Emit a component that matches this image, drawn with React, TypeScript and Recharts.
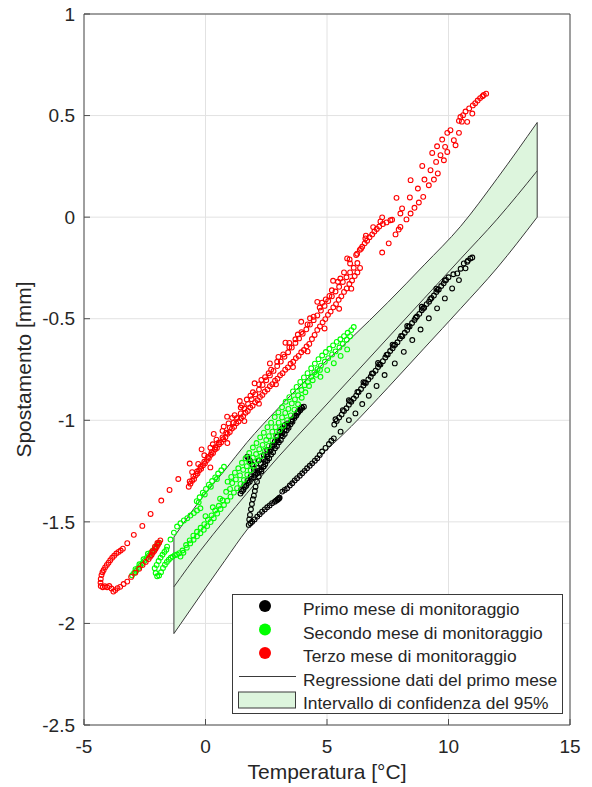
import React from 'react';
import {
  ComposedChart,
  Area,
  Line,
  Scatter,
  XAxis,
  YAxis,
  CartesianGrid,
  ReferenceLine,
} from 'recharts';

// axis ticks
const xTicks = [-5, 0, 5, 10, 15];
const yTicks = [-2.5, -2, -1.5, -1, -0.5, 0, 0.5, 1];

// regression of the first month and its 95% band
const bandX = [-1.3, -0.2, 0.8, 1.7, 3, 4.5, 6, 7.5, 9, 10.5, 12, 13.65];
const bandUpper = [-1.575, -1.39, -1.245, -1.11, -0.94, -0.76, -0.595, -0.42, -0.235, -0.045, 0.19, 0.466];
const regression = [-1.82, -1.64, -1.49, -1.36, -1.18, -0.985, -0.79, -0.595, -0.4, -0.205, -0.01, 0.228];
const bandLower = [-2.05, -1.86, -1.69, -1.54, -1.37, -1.2, -1.03, -0.84, -0.645, -0.45, -0.25, 0.0];

// Primo mese di monitoraggio [temperatura, spostamento]
const primoMese: [number, number][] = [
  // dense strand, left part
  [1.44, -1.361], [1.5, -1.349], [1.56, -1.342], [1.62, -1.329], [1.68, -1.322], [1.75, -1.309], [1.82, -1.302],
  [1.9, -1.288], [1.98, -1.281], [2.06, -1.268], [2.14, -1.261], [2.22, -1.247], [2.3, -1.241], [2.38, -1.228],
  [2.46, -1.216], [2.54, -1.199], [2.62, -1.187], [2.7, -1.169], [2.78, -1.157], [2.86, -1.138], [2.94, -1.127],
  [3.02, -1.108], [3.1, -1.097], [3.18, -1.079], [3.26, -1.067], [3.34, -1.049], [3.42, -1.037], [3.5, -1.019],
  [3.58, -1.007], [3.66, -0.989], [3.74, -0.977], [3.82, -0.961], [3.9, -0.951], [3.98, -0.939], [4.05, -0.933],
  [1.47, -1.34], [1.6, -1.318], [1.73, -1.296], [1.86, -1.276], [2.0, -1.255], [2.13, -1.235], [2.27, -1.213],
  [2.41, -1.19], [2.55, -1.168], [2.69, -1.145], [2.83, -1.12], [2.97, -1.1], [3.11, -1.075], [3.25, -1.052],
  [3.39, -1.028], [3.53, -1.005], [3.67, -0.98], [3.81, -0.958], [3.95, -0.935],
  [1.72, -1.179], [1.78, -1.192], [1.85, -1.201], [1.92, -1.217], [1.99, -1.239], [2.2, -1.198], [2.4, -1.171],
  [2.54, -1.146], [2.75, -1.121], [2.95, -1.097], [3.15, -1.064], [3.36, -1.031], [3.56, -0.996], [3.77, -0.966],
  [3.9, -0.944],
  // upturn of the loop
  [1.78, -1.515], [1.8, -1.488], [1.83, -1.466], [1.87, -1.438], [1.91, -1.412], [1.95, -1.389], [1.99, -1.371],
  [2.03, -1.348], [2.06, -1.327], [2.12, -1.302], [2.19, -1.277], [2.3, -1.252], [2.4, -1.228], [2.47, -1.201],
  [2.54, -1.179], [2.64, -1.154], [2.74, -1.13], [2.85, -1.106], [2.95, -1.081], [3.05, -1.058], [3.16, -1.039],
  [3.26, -1.024], [3.36, -1.015],
  // lower chain along the band edge
  [1.85, -1.507], [1.92, -1.499], [2.02, -1.488], [2.13, -1.474], [2.23, -1.462], [2.33, -1.45], [2.44, -1.439],
  [2.54, -1.428], [2.64, -1.419], [2.74, -1.408], [2.85, -1.401], [2.95, -1.392], [3.0, -1.387], [3.05, -1.381],
  [2.9, -1.396], [2.97, -1.39], [3.03, -1.384],
  [3.16, -1.351], [3.26, -1.343], [3.36, -1.335], [3.47, -1.321], [3.57, -1.31], [3.67, -1.296], [3.77, -1.285],
  [3.88, -1.273], [3.98, -1.261], [4.08, -1.249], [4.18, -1.236], [4.29, -1.224], [4.39, -1.212], [4.5, -1.199],
  [4.6, -1.187], [4.7, -1.171], [4.8, -1.154], [4.94, -1.136], [5.08, -1.117], [5.18, -1.101], [5.28, -1.089],
  // sparse row on the right
  [5.56, -1.056], [5.9, -0.999], [6.17, -0.966], [6.45, -0.92], [6.72, -0.879], [7.04, -0.831], [7.37, -0.777],
  [7.79, -0.72], [8.16, -0.663], [8.51, -0.605], [8.85, -0.553], [9.19, -0.498], [9.53, -0.449], [9.85, -0.4],
  [10.15, -0.351], [10.43, -0.31], [10.7, -0.252], [10.77, -0.22],
  // dense strand, right part
  [5.3, -1.021], [5.4, -1.003], [5.5, -0.986], [5.6, -0.972], [5.7, -0.954], [5.8, -0.941], [5.9, -0.923],
  [6.0, -0.909], [6.1, -0.893], [6.2, -0.879], [6.3, -0.861], [6.4, -0.846], [6.5, -0.829], [6.6, -0.816],
  [6.7, -0.799], [6.8, -0.786], [6.9, -0.769], [7.0, -0.756], [7.1, -0.738], [7.2, -0.726], [7.3, -0.709],
  [7.4, -0.691], [7.5, -0.676], [7.6, -0.659], [7.7, -0.646], [7.8, -0.628], [7.9, -0.616], [8.0, -0.598],
  [8.1, -0.586], [8.2, -0.569], [8.3, -0.556], [8.4, -0.538], [8.5, -0.521], [8.6, -0.506], [8.7, -0.489],
  [8.8, -0.476], [8.9, -0.458], [9.0, -0.446], [9.1, -0.428], [9.2, -0.416], [9.3, -0.398], [9.4, -0.386],
  [9.5, -0.368], [9.6, -0.356], [9.7, -0.339], [9.8, -0.326], [9.9, -0.309], [10.0, -0.296],
  [5.35, -0.995], [5.65, -0.95], [5.95, -0.905], [6.25, -0.86], [6.55, -0.815], [6.85, -0.77], [7.15, -0.725],
  [7.45, -0.678], [7.75, -0.632], [8.05, -0.585], [8.35, -0.54], [8.65, -0.495], [8.95, -0.45], [9.25, -0.404],
  [9.55, -0.358], [9.85, -0.312],
  [5.9, -0.901], [6.5, -0.812], [7.1, -0.718], [7.7, -0.628], [8.3, -0.536], [8.9, -0.441], [9.5, -0.352],
  [10.2, -0.281], [10.36, -0.277], [10.5, -0.254], [10.63, -0.228], [10.8, -0.214], [10.9, -0.203], [10.98, -0.199],
];

// Secondo mese di monitoraggio
const secondoMese: [number, number][] = [
  [-3.02, -1.763], [-2.94, -1.752], [-2.85, -1.741], [-2.77, -1.727], [-2.68, -1.716], [-2.59, -1.703],
  [-2.51, -1.692], [-2.42, -1.678], [-2.33, -1.667], [-2.25, -1.652], [-2.16, -1.641], [-2.07, -1.627],
  [-1.99, -1.614], [-1.91, -1.603], [-2.88, -1.733], [-2.72, -1.709], [-2.55, -1.684], [-2.37, -1.657],
  [-2.09, -1.728], [-2.05, -1.752], [-1.99, -1.768], [-1.91, -1.764], [-1.83, -1.748], [-1.75, -1.727],
  [-1.67, -1.711], [-1.59, -1.697], [-1.51, -1.686], [-1.43, -1.677], [-1.35, -1.671], [-1.26, -1.664],
  [-1.17, -1.661], [-1.08, -1.654], [-2.01, -1.712], [-1.93, -1.693], [-1.85, -1.676], [-1.77, -1.662],
  [-1.69, -1.648], [-1.61, -1.637],
  [-1.58, -1.622], [-1.44, -1.587], [-1.3, -1.553], [-1.17, -1.523], [-1.03, -1.507], [-0.89, -1.493],
  [-0.75, -1.482], [-0.62, -1.469], [-0.48, -1.457], [-0.35, -1.444], [-0.21, -1.433],
  [-0.36, -1.398], [-0.24, -1.379], [-0.11, -1.356], [0.02, -1.338], [0.14, -1.317], [0.27, -1.299],
  [0.4, -1.281], [0.52, -1.262], [0.65, -1.246], [0.76, -1.229], [-0.28, -1.404], [-0.03, -1.365],
  [0.22, -1.327], [0.47, -1.289],
  [-1.03, -1.671], [-0.91, -1.652], [-0.77, -1.627], [-0.63, -1.606], [-0.49, -1.588], [-0.35, -1.571],
  [-0.21, -1.556], [-0.07, -1.539], [0.07, -1.521], [0.21, -1.501], [0.34, -1.482], [0.48, -1.459],
  [0.62, -1.437], [0.76, -1.417], [0.9, -1.396], [1.03, -1.376], [1.17, -1.356], [1.3, -1.334],
  [1.44, -1.313], [1.58, -1.294], [1.72, -1.268], [1.86, -1.246], [2.0, -1.224], [2.15, -1.198],
  [2.3, -1.176], [2.45, -1.149], [2.6, -1.126], [2.75, -1.099], [2.9, -1.076], [3.05, -1.049],
  [3.21, -1.027], [3.36, -0.999], [3.51, -0.976], [3.66, -0.948], [3.81, -0.921], [3.96, -0.889],
  [4.11, -0.862], [4.26, -0.831], [4.41, -0.803], [4.56, -0.776], [4.71, -0.752],
  [-0.95, -1.641], [-0.8, -1.614], [-0.65, -1.591], [-0.5, -1.568], [-0.35, -1.549], [-0.2, -1.529],
  [-0.05, -1.511], [0.1, -1.489], [0.25, -1.468], [0.4, -1.444], [0.55, -1.421], [0.7, -1.394],
  [0.91, -1.302], [1.06, -1.279], [1.21, -1.258], [1.35, -1.236], [1.5, -1.209], [1.65, -1.187],
  [1.8, -1.161], [1.95, -1.134], [2.1, -1.112], [2.25, -1.084], [2.4, -1.061], [2.55, -1.034],
  [2.7, -1.012], [2.85, -0.984], [3.0, -0.961], [3.15, -0.936], [3.3, -0.909], [3.45, -0.886],
  [3.6, -0.858], [3.75, -0.836], [3.9, -0.811], [4.05, -0.789], [4.2, -0.768], [4.35, -0.744],
  [4.5, -0.721], [4.65, -0.699], [4.8, -0.681], [4.95, -0.664], [5.1, -0.648], [5.25, -0.631],
  [5.4, -0.614], [5.55, -0.601], [5.7, -0.586], [5.85, -0.569], [6.0, -0.556], [6.1, -0.541],
  [1.01, -1.338], [1.42, -1.271], [1.81, -1.207], [2.21, -1.142], [2.61, -1.078], [3.01, -1.012],
  [3.41, -0.944], [3.81, -0.877], [4.21, -0.812], [4.61, -0.748], [4.91, -0.712], [5.21, -0.676],
  [5.51, -0.642], [5.81, -0.603],
  [0.0, -1.472], [0.3, -1.428], [0.6, -1.386], [0.85, -1.352], [1.1, -1.309], [1.25, -1.291],
  [1.55, -1.244], [1.7, -1.226], [1.95, -1.184], [2.08, -1.166], [2.35, -1.121], [2.5, -1.097],
  [2.75, -1.056], [2.88, -1.034], [3.15, -0.986], [3.28, -0.964], [3.55, -0.917], [3.68, -0.897],
  [3.95, -0.851], [4.08, -0.827], [4.35, -0.786], [4.48, -0.764], [4.75, -0.731], [5.05, -0.694],
  [5.35, -0.661], [5.65, -0.624], [5.95, -0.586],
  [4.73, -0.786], [5.01, -0.753], [5.28, -0.719], [5.56, -0.683], [5.83, -0.651],
];

// Terzo mese di monitoraggio
const terzoMese: [number, number][] = [
  // hook at the lower left
  [-4.32, -1.8], [-4.31, -1.781], [-4.28, -1.762], [-4.24, -1.748], [-4.19, -1.737], [-4.13, -1.724],
  [-4.06, -1.712], [-3.99, -1.701], [-3.92, -1.689], [-3.84, -1.677], [-3.76, -1.667], [-3.67, -1.656],
  [-3.58, -1.648], [-3.49, -1.641], [-3.4, -1.632],
  [-4.31, -1.816], [-4.23, -1.822], [-4.14, -1.817], [-4.05, -1.822], [-3.96, -1.816], [-3.87, -1.828],
  [-3.79, -1.843], [-3.71, -1.836], [-3.62, -1.826], [-3.51, -1.82], [-3.37, -1.806], [-3.22, -1.794],
  [-3.06, -1.771], [-2.89, -1.75], [-2.73, -1.731], [-2.59, -1.712], [-2.46, -1.697],
  [-2.34, -1.683], [-2.28, -1.672], [-2.22, -1.663], [-2.17, -1.652], [-2.11, -1.644], [-2.06, -1.633],
  [-2.01, -1.624], [-1.96, -1.613], [-1.91, -1.602], [-1.86, -1.591], [-2.19, -1.645], [-2.08, -1.622],
  [-1.98, -1.604],
  // sparse upper row
  [-3.22, -1.605], [-2.95, -1.564], [-2.6, -1.52], [-2.26, -1.461], [-1.82, -1.395], [-1.48, -1.343],
  [-1.12, -1.289], [-0.65, -1.213], [-0.16, -1.143], [0.34, -1.067], [0.89, -0.982], [1.41, -0.905],
  [2.02, -0.818], [2.65, -0.72], [3.29, -0.618], [3.94, -0.515], [4.6, -0.417], [5.25, -0.313],
  [5.93, -0.208], [6.58, -0.105], [7.27, -0.001], [7.86, 0.095], [8.44, 0.182], [8.92, 0.252],
  [9.33, 0.316], [9.74, 0.382], [10.08, 0.428], [10.43, 0.474],
  // scatter around the dense body
  [0.3, -1.118], [0.75, -1.031], [1.1, -0.988], [1.5, -0.927], [1.85, -0.879], [2.3, -0.801],
  [2.6, -0.768], [3.0, -0.688], [3.45, -0.619], [3.8, -0.578], [4.3, -0.498], [4.8, -0.421],
  [5.1, -0.388], [5.55, -0.302], [0.2, -1.232], [0.9, -1.112], [1.6, -1.004], [2.2, -0.918],
  [2.9, -0.823], [3.6, -0.738], [4.2, -0.661], [4.9, -0.548], [5.5, -0.451], [6.0, -0.352],
  // dense body
  [-0.69, -1.327], [-0.62, -1.312], [-0.55, -1.298], [-0.47, -1.289], [-0.4, -1.271], [-0.33, -1.262],
  [-0.26, -1.246], [-0.18, -1.238], [-0.1, -1.221], [-0.02, -1.212], [0.06, -1.196], [0.14, -1.186],
  [0.22, -1.17], [0.31, -1.161], [0.39, -1.144], [0.47, -1.136], [0.56, -1.118], [0.64, -1.109],
  [0.73, -1.093], [0.82, -1.083], [0.91, -1.066], [1.0, -1.058], [1.09, -1.041], [1.18, -1.032],
  [1.27, -1.015], [1.36, -1.006], [1.46, -0.99], [1.55, -0.98], [1.65, -0.963], [1.74, -0.954],
  [1.84, -0.937], [1.94, -0.928], [2.04, -0.911], [2.14, -0.901], [2.24, -0.885], [2.34, -0.875],
  [2.44, -0.859], [2.55, -0.848], [2.65, -0.832], [2.75, -0.822], [2.86, -0.805], [2.96, -0.795],
  [3.07, -0.778], [3.17, -0.768], [3.28, -0.751], [3.39, -0.74], [3.5, -0.722], [3.61, -0.712],
  [3.72, -0.694], [3.83, -0.683], [3.94, -0.665], [4.05, -0.654], [4.16, -0.636], [4.27, -0.624],
  [4.38, -0.6], [4.49, -0.58], [4.6, -0.555], [4.71, -0.538], [4.82, -0.518], [4.93, -0.502],
  [5.04, -0.481], [5.15, -0.465], [5.26, -0.444], [5.37, -0.428], [5.48, -0.407], [5.59, -0.39],
  [5.7, -0.368], [5.81, -0.351], [5.92, -0.329], [6.03, -0.312], [6.14, -0.29], [6.25, -0.272],
  [6.36, -0.25],
  [-0.65, -1.301], [-0.5, -1.276], [-0.35, -1.252], [-0.2, -1.229], [-0.05, -1.204], [0.1, -1.181],
  [0.25, -1.157], [0.4, -1.133], [0.55, -1.109], [0.7, -1.084], [0.85, -1.061], [1.0, -1.036],
  [1.15, -1.013], [1.3, -0.989], [1.45, -0.966], [1.6, -0.942], [1.75, -0.919], [1.9, -0.896],
  [2.05, -0.872], [2.2, -0.849], [2.35, -0.826], [2.5, -0.803], [2.65, -0.779], [2.8, -0.757],
  [2.95, -0.733], [3.1, -0.711], [3.25, -0.687], [3.4, -0.665], [3.55, -0.642], [3.7, -0.619],
  [3.85, -0.597], [4.0, -0.574], [4.15, -0.552], [4.3, -0.529], [4.45, -0.507], [4.6, -0.484],
  [4.75, -0.46], [4.9, -0.437], [5.05, -0.413], [5.2, -0.39], [5.35, -0.366], [5.5, -0.343],
  [5.65, -0.319], [5.8, -0.296], [5.95, -0.272], [6.1, -0.249], [6.25, -0.226],
  [-0.55, -1.255], [-0.3, -1.215], [-0.05, -1.172], [0.2, -1.135], [0.45, -1.095], [0.7, -1.052],
  [0.95, -1.015], [1.2, -0.975], [1.45, -0.937], [1.7, -0.898], [1.95, -0.862], [2.2, -0.823],
  [2.45, -0.788], [2.7, -0.751], [2.95, -0.712], [3.2, -0.676], [3.45, -0.64], [3.7, -0.601],
  [3.95, -0.566], [4.2, -0.528], [4.45, -0.49], [4.7, -0.445], [4.95, -0.405], [5.2, -0.36],
  [5.45, -0.318], [5.7, -0.272], [5.95, -0.228], [6.2, -0.186], [6.4, -0.155],
  // upper right
  [5.83, -0.203], [6.24, -0.18], [6.35, -0.161], [6.45, -0.146], [6.55, -0.129], [6.65, -0.116],
  [6.75, -0.099], [6.86, -0.085], [6.95, -0.071], [7.05, -0.058], [7.15, -0.046], [7.3, -0.034],
  [7.45, -0.026], [7.61, -0.015], [6.6, -0.091], [6.9, -0.049], [7.2, -0.021], [7.68, -0.013],
  [7.27, -0.174], [7.54, -0.129], [7.82, -0.085], [7.95, -0.061], [8.02, -0.048], [8.02, 0.018],
  [8.09, 0.043], [8.27, -0.011], [8.41, 0.097], [8.44, 0.018], [8.6, 0.046], [8.74, 0.141],
  [8.78, 0.072], [8.96, 0.1], [9.01, 0.185], [9.19, 0.157], [9.26, 0.231], [9.4, 0.185],
  [9.49, 0.272], [9.53, 0.349], [9.56, 0.215], [9.67, 0.305], [9.81, 0.28], [9.86, 0.346],
  [9.95, 0.321], [9.95, 0.415], [10.22, 0.379], [10.29, 0.354], [10.43, 0.415], [10.49, 0.493],
  [10.55, 0.47], [10.6, 0.502], [10.77, 0.469], [10.7, 0.52], [10.85, 0.535], [10.98, 0.51],
  [11.0, 0.55], [11.1, 0.561], [11.2, 0.574], [11.3, 0.586], [11.4, 0.595], [11.45, 0.601],
  [11.55, 0.608],
];

const seriesNames = [
  'Primo mese di monitoraggio',
  'Secondo mese di monitoraggio',
  'Terzo mese di monitoraggio',
  'Regressione dati del primo mese',
  'Intervallo di confidenza del 95%',
];
const seriesColors = ['#000000', '#00ff00', '#ff0000'];

const FONT = 'Arial, "Liberation Sans", Helvetica, sans-serif';
const AXIS = '#4d4d4d';
const TEXT = '#262626';
const EDGE = '#3a3a3a';
const BAND_FILL = '#ddf5dd';
const GRID = '#e2e2e2';

const bandRows = bandX.map((x, i) => ({
  x,
  range: [bandLower[i], bandUpper[i]],
  reg: regression[i],
}));

const toPoints = (arr: [number, number][]) => arr.map(([x, y]) => ({ x, y }));

const ring = (color: string) => (props: any) => {
  const { cx, cy } = props;
  if (cx == null || cy == null) return <g />;
  return <circle cx={cx} cy={cy} r={2.4} fill="none" stroke={color} strokeWidth={1.1} />;
};

const tickStyle = { fill: TEXT, fontSize: 19, fontFamily: FONT };

const ChartLegend = () => (
  <svg
    width={333}
    height={122}
    style={{ position: 'absolute', left: 231, top: 593 }}
    fontFamily={FONT}
  >
    <rect x={1.5} y={1.5} width={330} height={119} fill="#ffffff" stroke={EDGE} strokeWidth={1} />
    {seriesNames.map((name, i) => {
      const cy = 13 + i * 23.5;
      let marker;
      if (i < 3) {
        marker = <circle cx={34} cy={cy} r={6} fill={seriesColors[i]} />;
      } else if (i === 3) {
        marker = <line x1={8} x2={65} y1={cy} y2={cy} stroke={EDGE} strokeWidth={1} />;
      } else {
        marker = <rect x={7.5} y={cy - 8} width={57} height={16} fill={BAND_FILL} stroke={EDGE} />;
      }
      return (
        <g key={name}>
          {marker}
          <text x={72} y={cy + 9} fontSize={17.4} fill={TEXT}>
            {name}
          </text>
        </g>
      );
    })}
  </svg>
);

export default function App() {
  const last = bandX.length - 1;
  return (
    <div style={{ position: 'absolute', left: 0, top: 0, width: 592, height: 787, background: '#fff' }}>
      <ComposedChart
        width={592}
        height={787}
        data={bandRows}
        margin={{ top: 13, right: 21, bottom: 0, left: 0 }}
      >
        <CartesianGrid stroke={GRID} strokeWidth={1} />
        <XAxis
          dataKey="x"
          type="number"
          domain={[-5, 15]}
          ticks={xTicks}
          height={62}
          tickSize={-6}
          tickMargin={21}
          stroke={AXIS}
          tick={tickStyle}
          label={{
            value: 'Temperatura [°C]',
            position: 'insideBottom',
            offset: 8,
            fill: TEXT,
            fontSize: 21,
            fontFamily: FONT,
          }}
        />
        <XAxis
          xAxisId="top"
          orientation="top"
          type="number"
          domain={[-5, 15]}
          ticks={xTicks}
          height={1}
          tickSize={-6}
          tick={false}
          stroke={AXIS}
        />
        <YAxis
          type="number"
          domain={[-2.5, 1]}
          ticks={yTicks}
          width={84}
          tickSize={-6}
          tickMargin={15}
          stroke={AXIS}
          tick={tickStyle}
          label={{
            value: 'Spostamento [mm]',
            angle: -90,
            position: 'insideLeft',
            offset: 24,
            fill: TEXT,
            fontSize: 21,
            fontFamily: FONT,
            style: { textAnchor: 'middle' },
          }}
        />
        <YAxis
          yAxisId="right"
          orientation="right"
          type="number"
          domain={[-2.5, 1]}
          ticks={yTicks}
          width={1}
          tickSize={-6}
          tick={false}
          stroke={AXIS}
        />
        <Area
          dataKey="range"
          type="monotone"
          fill={BAND_FILL}
          fillOpacity={1}
          stroke={EDGE}
          strokeWidth={1}
          isAnimationActive={false}
        />
        <ReferenceLine
          segment={[{ x: bandX[0], y: bandLower[0] }, { x: bandX[0], y: bandUpper[0] }]}
          stroke={EDGE}
          strokeWidth={1}
        />
        <ReferenceLine
          segment={[{ x: bandX[last], y: bandLower[last] }, { x: bandX[last], y: bandUpper[last] }]}
          stroke={EDGE}
          strokeWidth={1}
        />
        <Line
          dataKey="reg"
          type="monotone"
          stroke={EDGE}
          strokeWidth={1}
          dot={false}
          isAnimationActive={false}
        />
        <Scatter data={toPoints(primoMese)} dataKey="y" shape={ring(seriesColors[0])} isAnimationActive={false} />
        <Scatter data={toPoints(secondoMese)} dataKey="y" shape={ring(seriesColors[1])} isAnimationActive={false} />
        <Scatter data={toPoints(terzoMese)} dataKey="y" shape={ring(seriesColors[2])} isAnimationActive={false} />
      </ComposedChart>
      <ChartLegend />
    </div>
  );
}
